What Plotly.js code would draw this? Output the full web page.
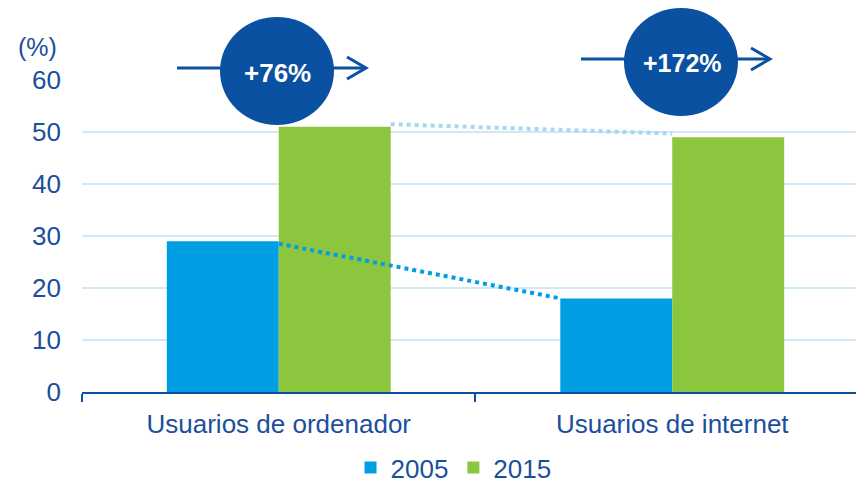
<!DOCTYPE html>
<html>
<head>
<meta charset="utf-8">
<script src="https://cdn.plot.ly/plotly-3.0.1.min.js"></script>
<style>html,body{margin:0;padding:0;background:#fff;overflow:hidden}</style>
</head>
<body>
<div id="chart" style="width:856px;height:491px"></div>
<script>
// ---- data ----
const categories = ['Usuarios de ordenador', 'Usuarios de internet'];
const seriesNames = ['2005', '2015'];
const values2005 = [29, 18];
const values2015 = [51, 49];
// dotted connectors between bar tops
const connector2005 = [28.5, 18.0];
const connector2015 = [51.5, 49.7];
const growthLabels = ['+76%', '+172%'];
const yTicks = [0, 10, 20, 30, 40, 50, 60];

// ---- style ----
const FONT = 'Liberation Sans, Arial, sans-serif';
const TXT = '#1b4f9c';
const DARK = '#0b51a1';
const BLUE = '#009fe3';
const GREEN = '#8cc63f';
const LIGHT = '#a8d8f1';
const bargap = 0.431;
const barW = (1 - bargap) / 2;
const xRange = [-0.5, 1.467];

const traces = [
  {type: 'bar', name: seriesNames[0], x: categories, y: values2005, marker: {color: BLUE}, hoverinfo: 'skip'},
  {type: 'bar', name: seriesNames[1], x: categories, y: values2015, marker: {color: GREEN}, hoverinfo: 'skip'},
  {type: 'scatter', mode: 'lines', xaxis: 'x2', x: [0, 1 - barW], y: connector2005,
   line: {color: BLUE, width: 4, dash: 'dot'}, showlegend: false, hoverinfo: 'skip'},
  {type: 'scatter', mode: 'lines', xaxis: 'x2', x: [barW, 1], y: connector2015,
   line: {color: LIGHT, width: 4, dash: 'dot'}, showlegend: false, hoverinfo: 'skip'}
];

// pixel -> paper helpers for decorations (plot area 82..856 x, 80..392 y)
const px = v => (v - 82) / 774;
const py = v => (392 - v) / 312;

function arrow(x0, x1, y) {
  return [
    {type: 'line', xref: 'paper', yref: 'paper', x0: px(x0), x1: px(x1), y0: py(y), y1: py(y), line: {color: DARK, width: 3}},
    {type: 'path', xref: 'paper', yref: 'paper',
     path: `M${px(x1 - 19)},${py(y - 11)} L${px(x1)},${py(y)} L${px(x1 - 19)},${py(y + 11)}`,
     line: {color: DARK, width: 3}}
  ];
}
function circle(cx, cy, w, h) {
  return {type: 'circle', xref: 'paper', yref: 'paper', x0: px(cx - w / 2), x1: px(cx + w / 2),
    y0: py(cy + h / 2), y1: py(cy - h / 2), fillcolor: DARK, line: {width: 0}};
}

const shapes = [
  ...arrow(177, 366, 68),
  ...arrow(581, 770, 59),
  circle(277, 71, 114, 108),
  circle(681, 62, 114, 108)
];

const annotations = [
  {xref: 'paper', yref: 'paper', x: px(37), y: py(47), xanchor: 'center', yanchor: 'middle', text: '(%)', showarrow: false,
   font: {family: FONT, size: 25, color: TXT}},
  {xref: 'paper', yref: 'paper', x: px(277), y: py(73), xanchor: 'center', yanchor: 'middle', text: '<b>' + growthLabels[0] + '</b>', showarrow: false,
   font: {family: FONT, size: 26, color: '#ffffff'}},
  {xref: 'paper', yref: 'paper', x: px(682), y: py(63), xanchor: 'center', yanchor: 'middle', text: '<b>' + growthLabels[1] + '</b>', showarrow: false,
   font: {family: FONT, size: 25, color: '#ffffff'}}
];

const layout = {
  width: 856, height: 491,
  margin: {l: 82, r: 0, t: 80, b: 99, autoexpand: false},
  paper_bgcolor: '#ffffff', plot_bgcolor: '#ffffff',
  font: {family: FONT, size: 25, color: TXT},
  barmode: 'group', bargap: bargap, bargroupgap: 0,
  showlegend: true,
  legend: {orientation: 'h', x: 0.48, xanchor: 'center', yref: 'container', y: -0.014, yanchor: 'bottom',
    font: {family: FONT, size: 26, color: TXT}, itemwidth: 30, bgcolor: 'rgba(0,0,0,0)'},
  xaxis: {type: 'category', range: xRange, showline: true, linecolor: DARK, linewidth: 2,
    ticks: 'outside', tickson: 'boundaries', ticklen: 8, tickwidth: 2, tickcolor: DARK,
    showgrid: false, zeroline: false, fixedrange: true, ticklabelstandoff: 8,
    tickfont: {family: FONT, size: 26, color: TXT}},
  xaxis2: {overlaying: 'x', range: xRange, visible: false, fixedrange: true},
  yaxis: {range: [0, 60], tickvals: yTicks, showgrid: true, gridcolor: '#cfe9f7', gridwidth: 1.5,
    zeroline: false, showline: false, ticks: '', ticklabelstandoff: 20, fixedrange: true,
    tickfont: {family: FONT, size: 26, color: TXT}},
  shapes: shapes,
  annotations: annotations
};

Plotly.newPlot('chart', traces, layout, {displayModeBar: false, staticPlot: true});
</script>
</body>
</html>
